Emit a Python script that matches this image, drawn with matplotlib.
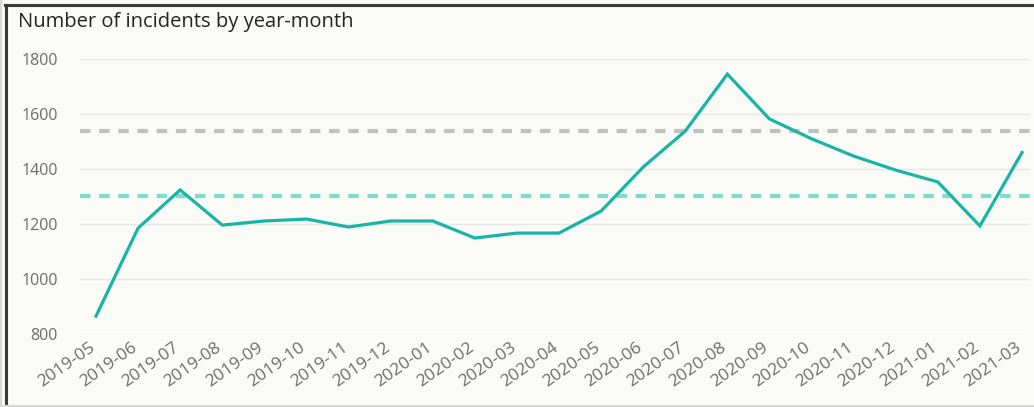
import matplotlib.pyplot as plt
from matplotlib.lines import Line2D
from matplotlib.transforms import ScaledTranslation

months = ['2019-05', '2019-06', '2019-07', '2019-08', '2019-09', '2019-10',
          '2019-11', '2019-12', '2020-01', '2020-02', '2020-03', '2020-04',
          '2020-05', '2020-06', '2020-07', '2020-08', '2020-09', '2020-10',
          '2020-11', '2020-12', '2021-01', '2021-02', '2021-03']
incidents = [865, 1185, 1324, 1196, 1211, 1218, 1189, 1211, 1211, 1149, 1167, 1167,
             1247, 1407, 1538, 1745, 1582, 1510, 1447, 1396, 1353, 1193, 1460]
average_line = 1303
upper_line = 1539
yticks = [800, 1000, 1200, 1400, 1600, 1800]

W, H = 1034, 407
fig = plt.figure(figsize=(W / 100, H / 100), dpi=100)
fig.patch.set_facecolor('#fafaf7')

# card border
fig.add_artist(Line2D([6 / W, 6 / W], [0, 1 - 5 / H], color='#3a3a3a', lw=2.2))
fig.add_artist(Line2D([5 / W, 1], [1 - 5 / H, 1 - 5 / H], color='#3a3a3a', lw=2.2))
fig.add_artist(Line2D([0, 1], [1.5 / H, 1.5 / H], color='#d8d8d8', lw=1.5))
fig.add_artist(Line2D([1 / W, 1 / W], [0, 1], color='#d8d8d8', lw=1.5))

ax = fig.add_axes([80 / W, 1 - 334 / H, 950 / W, 275 / H])
ax.set_facecolor('#fafaf7')
x = list(range(len(months)))

ax.axhline(upper_line, color='#c0c0c0', lw=3, dashes=(2.5, 2.1), zorder=2)
ax.axhline(average_line, color='#7fdbce', lw=3, dashes=(2.5, 2.1), zorder=2)
ax.plot(x, incidents, color='#18b5a6', lw=2.3, solid_joinstyle='miter', zorder=3, clip_on=False)

ax.set_xlim(-0.38, len(months) - 1 + 0.19)
ax.set_ylim(800, 1800)
ax.set_yticks(yticks)
ax.set_yticklabels([str(v) for v in yticks])
ax.set_xticks(x)
ax.set_xticklabels(months, rotation=35, ha='right', rotation_mode='anchor')
ax.grid(axis='y', color='#e6e6e6', lw=1)
ax.set_axisbelow(True)
for s in ax.spines.values():
    s.set_visible(False)
ax.tick_params(length=0, colors='#666666')
ax.tick_params(axis='y', pad=16, labelsize=11.5)
ax.tick_params(axis='x', pad=3, labelsize=12.5)
shift = ScaledTranslation(-7 / 100, -1 / 100, fig.dpi_scale_trans)
for lab in ax.get_xticklabels():
    lab.set_transform(lab.get_transform() + shift)
for lab in ax.get_xticklabels() + ax.get_yticklabels():
    lab.set_fontfamily('Open Sans')
    lab.set_color('#6f6d6b')

fig.text(18 / W, 1 - 22 / H, 'Number of incidents by year-month', fontsize=14.5,
         color='#252423', va='center', ha='left', family='Open Sans')

fig.savefig('out.png', dpi=100, facecolor=fig.get_facecolor())
